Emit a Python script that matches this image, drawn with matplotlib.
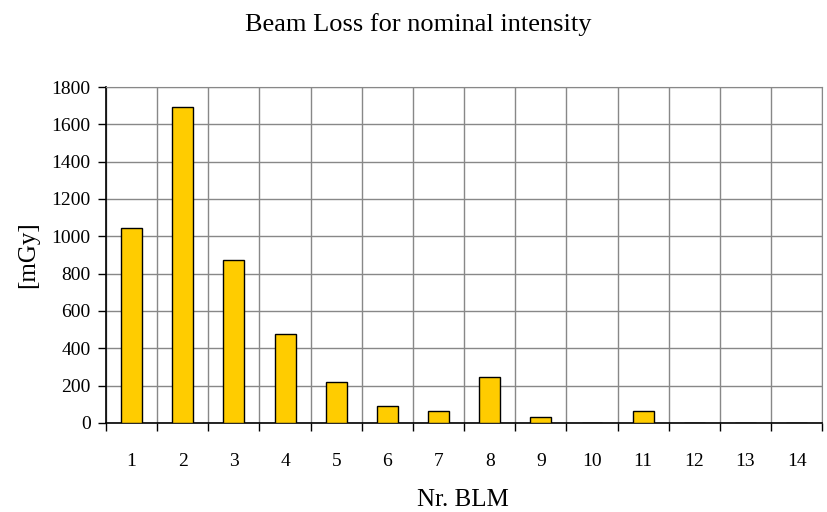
import matplotlib
matplotlib.use("Agg")
import matplotlib.pyplot as plt
import numpy as np

# Beam loss per BLM at nominal intensity
blm = [str(i) for i in range(1, 15)]
dose_mgy = [1043, 1694, 873, 477, 221, 93, 63, 248, 30, 0, 64, 0, 0, 0]

plt.rcParams["font.family"] = ["Liberation Serif", "DejaVu Serif"]

fig = plt.figure(figsize=(8.28, 5.12), dpi=100)
ax = fig.add_axes([0.128, 0.174, 0.865, 0.656])

x = np.arange(len(blm))
ax.bar(x, dose_mgy, width=0.41, color="#FFCC00", edgecolor="black",
       linewidth=1.0, zorder=3)

ax.set_xlim(-0.5, len(blm) - 0.5)
ax.set_ylim(0, 1800)
ax.set_yticks(np.arange(0, 1801, 200))

# category boundaries carry the ticks and vertical grid, labels sit at the centres
ax.set_xticks(np.arange(-0.5, len(blm)), minor=False)
ax.set_xticklabels([])
ax.set_xticks(x, minor=True)
ax.set_xticklabels(blm, minor=True)
ax.tick_params(axis="x", which="major", direction="out", length=6, width=1, color="black")
ax.tick_params(axis="x", which="minor", length=0, pad=22, labelsize=14)
ax.tick_params(axis="y", direction="out", length=6, width=1, labelsize=14, pad=5)

ax.grid(True, which="major", color="#888888", linewidth=1.0, zorder=0)
ax.set_axisbelow(True)

for side in ("top", "right"):
    ax.spines[side].set_color("#888888")
for side in ("left", "bottom"):
    ax.spines[side].set_color("black")
    ax.spines[side].set_linewidth(1.2)

fig.text(0.505, 1 - 31 / 512, "Beam Loss for nominal intensity", fontsize=19,
         ha="center", va="baseline")
ax.set_ylabel("[mGy]", fontsize=18, labelpad=9)
fig.text(0.559, 1 - 506 / 512, "Nr. BLM", fontsize=18, ha="center", va="baseline")

fig.savefig("out.png", dpi=100)
